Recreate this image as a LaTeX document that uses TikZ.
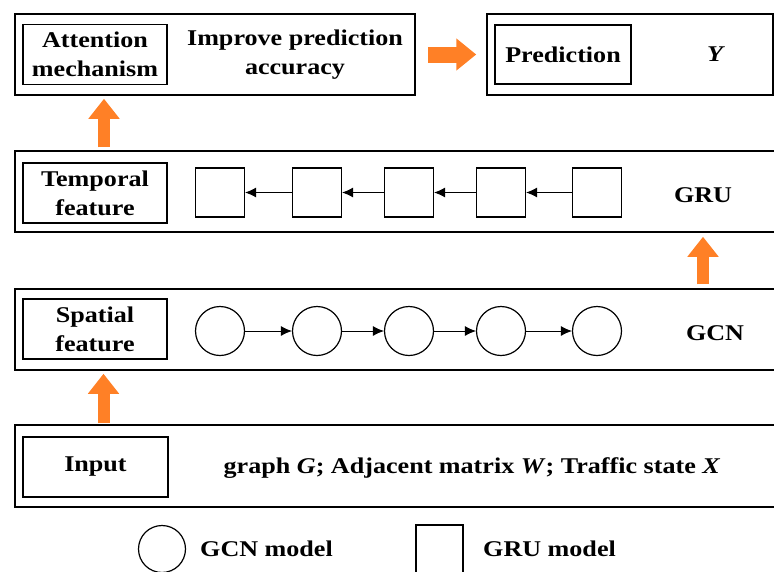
\documentclass[tikz,border=0pt]{standalone}
\usepackage{fontspec}
\setmainfont{Liberation Serif}[FakeStretch=1.16]
\usetikzlibrary{arrows.meta,calc}
\definecolor{flow}{RGB}{255,128,38}
\begin{document}
\begin{tikzpicture}[x=1pt,y=-1pt,
  rowbox/.style={draw, line width=1.5pt, minimum height=81pt, inner sep=0pt},
  tagbox/.style={draw, line width=1.3pt, minimum width=144pt, minimum height=60pt, inner sep=0pt,
                 font=\fontsize{22.5}{29}\selectfont\bfseries, align=center},
  lbl/.style={font=\fontsize{22.5}{29}\selectfont\bfseries, align=center, inner sep=0pt},
  gru/.style={draw, line width=1.2pt, minimum width=49pt, minimum height=49pt, inner sep=0pt},
  gcn/.style={draw, line width=1.2pt, circle, minimum size=49pt, inner sep=0pt},
  link/.style={line width=0.9pt, -{Latex[length=11pt,width=10pt]}},
  flowarrow/.style={flow, line width=12pt, -{Triangle[length=20pt,width=30pt]}},
  flowarrowh/.style={flow, line width=16pt, -{Triangle[length=20pt,width=31pt]}}
]
\useasboundingbox (0,0) rectangle (774,571);

% top row: attention and prediction
\node[rowbox, minimum width=400pt] (attnrow) at (215,54.5) {};
\node[tagbox] (attn) at (95,54.5) {Attention\\mechanism};
\node[lbl] (improve) at (295,55) {Improve prediction\\accuracy};
\node[rowbox, minimum width=286pt] (predrow) at (630,54.5) {};
\node[tagbox, minimum width=136pt, minimum height=59pt] (pred) at (563,54.5) {Prediction};
\node[lbl] (yout) at (715,54) {\itshape Y};

% temporal feature row (GRU chain)
\node[rowbox, minimum width=762pt] (temprow) at (396,191.5) {};
\node[tagbox] (temptag) at (95,193) {Temporal\\feature};
\foreach \i/\x in {1/220,2/317,3/409,4/501,5/597}
  \node[gru] (q\i) at (\x,192.5) {};
\foreach \a/\b in {2/1,3/2,4/3,5/4}
  \draw[link] (q\a) -- (q\b);
\node[lbl] (grulbl) at (703,195) {GRU};

% spatial feature row (GCN chain)
\node[rowbox, minimum width=762pt] (sparow) at (396,329.5) {};
\node[tagbox] (spatag) at (95,329) {Spatial\\feature};
\foreach \i/\x in {1/220,2/317,3/409,4/501,5/597}
  \node[gcn] (c\i) at (\x,331) {};
\foreach \a/\b in {1/2,2/3,3/4,4/5}
  \draw[link] (c\a) -- (c\b);
\node[lbl] (gcnlbl) at (715,333) {GCN};

% input row
\node[rowbox, minimum width=762pt, minimum height=82pt] (inrow) at (396,466) {};
\node[tagbox, minimum width=145pt] (intag) at (95.5,467) {Input};
\node[lbl] (indata) at (472,468) {graph \textit{G}; Adjacent matrix \textit{W}; Traffic state \textit{X}};

% legend
\node[gcn, minimum size=47pt] (leggcn) at (162,549) {};
\node[lbl, anchor=west] (leggcnt) at (200,549) {GCN model};
\node[gru, minimum width=47pt, minimum height=48pt] (leggru) at (439.5,549) {};
\node[lbl, anchor=west] (leggrut) at (483,549) {GRU model};

% data flow between stages
\draw[flowarrow, shorten <=1pt, shorten >=3pt]
  ($(inrow.north -| intag.center)+(8,0)$) -- ($(sparow.south -| intag.center)+(8,0)$);
\draw[flowarrow, shorten <=4pt, shorten >=4pt]
  (sparow.north -| grulbl) -- (temprow.south -| grulbl);
\draw[flowarrow, shorten <=3pt, shorten >=3pt]
  ($(temprow.north -| attn.center)+(9,0)$) -- ($(attnrow.south -| attn.center)+(9,0)$);
\draw[flowarrowh, shorten <=12pt, shorten >=10pt] (attnrow.east) -- (predrow.west);
\end{tikzpicture}
\end{document}
